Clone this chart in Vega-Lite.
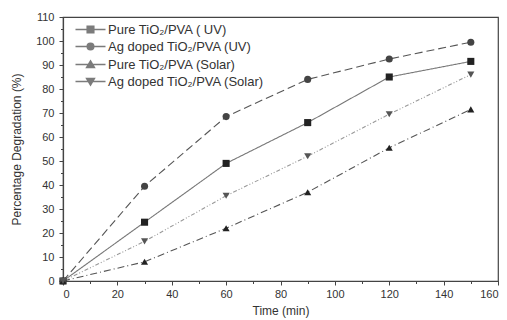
{
  "$schema": "https://vega.github.io/schema/vega-lite/v6.json",
  "width": 435,
  "height": 264,
  "autosize": {"type": "none"},
  "padding": {"left": 63, "top": 17, "right": 9, "bottom": 39},
  "background": "white",
  "config": {
    "view": {"stroke": "#444", "strokeWidth": 1.2},
    "font": "Liberation Sans",
    "axis": {"labelFont": "Liberation Sans", "titleFont": "Liberation Sans", "labelColor": "#333", "titleColor": "#333", "domainColor": "#444", "tickColor": "#444", "grid": false, "labelFontSize": 11, "titleFontSize": 12, "titleFontWeight": "normal", "labelOverlap": false},
    "legend": {"labelFont": "Liberation Sans", "labelFontSize": 13, "labelColor": "#333"}
  },
  "data": {"values": [
    {"t": 0, "v": 0, "s": "Pure TiO₂/PVA ( UV)"},
    {"t": 30, "v": 24.5, "s": "Pure TiO₂/PVA ( UV)"},
    {"t": 60, "v": 49, "s": "Pure TiO₂/PVA ( UV)"},
    {"t": 90, "v": 66, "s": "Pure TiO₂/PVA ( UV)"},
    {"t": 120, "v": 85, "s": "Pure TiO₂/PVA ( UV)"},
    {"t": 150, "v": 91.5, "s": "Pure TiO₂/PVA ( UV)"},
    {"t": 0, "v": 0, "s": "Ag doped TiO₂/PVA (UV)"},
    {"t": 30, "v": 39.5, "s": "Ag doped TiO₂/PVA (UV)"},
    {"t": 60, "v": 68.5, "s": "Ag doped TiO₂/PVA (UV)"},
    {"t": 90, "v": 84, "s": "Ag doped TiO₂/PVA (UV)"},
    {"t": 120, "v": 92.5, "s": "Ag doped TiO₂/PVA (UV)"},
    {"t": 150, "v": 99.5, "s": "Ag doped TiO₂/PVA (UV)"},
    {"t": 0, "v": 0, "s": "Pure TiO₂/PVA (Solar)"},
    {"t": 30, "v": 8, "s": "Pure TiO₂/PVA (Solar)"},
    {"t": 60, "v": 22, "s": "Pure TiO₂/PVA (Solar)"},
    {"t": 90, "v": 37, "s": "Pure TiO₂/PVA (Solar)"},
    {"t": 120, "v": 55.5, "s": "Pure TiO₂/PVA (Solar)"},
    {"t": 150, "v": 71.5, "s": "Pure TiO₂/PVA (Solar)"},
    {"t": 0, "v": 0, "s": "Ag doped TiO₂/PVA (Solar)"},
    {"t": 30, "v": 16.5, "s": "Ag doped TiO₂/PVA (Solar)"},
    {"t": 60, "v": 35.5, "s": "Ag doped TiO₂/PVA (Solar)"},
    {"t": 90, "v": 52, "s": "Ag doped TiO₂/PVA (Solar)"},
    {"t": 120, "v": 69.5, "s": "Ag doped TiO₂/PVA (Solar)"},
    {"t": 150, "v": 86, "s": "Ag doped TiO₂/PVA (Solar)"}
  ]},
  "encoding": {
    "x": {"field": "t", "type": "quantitative", "scale": {"domain": [0, 160], "nice": false},
      "axis": {"orient": "bottom", "title": "Time (min)", "values": [0,10,20,30,40,50,60,70,80,90,100,110,120,130,140,150,160],
        "labelExpr": "datum.value % 20 === 0 ? datum.label : ''", "labelOverlap": false,
        "tickSize": {"condition": {"test": "datum.value % 20 === 0", "value": 4}, "value": 2.5},
        "labelPadding": 3, "titlePadding": 6, "domainWidth": 1.2}},
    "y": {"field": "v", "type": "quantitative", "scale": {"domain": [0, 110], "nice": false},
      "axis": {"orient": "left", "title": "Percentage Degradation (%)", "values": [0,5,10,15,20,25,30,35,40,45,50,55,60,65,70,75,80,85,90,95,100,105,110],
        "labelExpr": "datum.value % 10 === 0 ? datum.label : ''", "labelOverlap": false,
        "tickSize": {"condition": {"test": "datum.value % 10 === 0", "value": 4}, "value": 2.5},
        "labelPadding": 5, "titlePadding": 12, "domainWidth": 1.2}}
  },
  "layer": [
    {
      "mark": {"type": "line", "strokeWidth": 1.1},
      "encoding": {
        "detail": {"field": "s"},
        "color": {"field": "s", "type": "nominal", "legend": null, "scale": {"domain": ["Pure TiO₂/PVA ( UV)", "Ag doped TiO₂/PVA (UV)", "Pure TiO₂/PVA (Solar)", "Ag doped TiO₂/PVA (Solar)"], "range": ["#777777", "#555555", "#555555", "#999999"]}},
        "strokeDash": {"field": "s", "type": "nominal", "legend": null, "scale": {"domain": ["Pure TiO₂/PVA ( UV)", "Ag doped TiO₂/PVA (UV)", "Pure TiO₂/PVA (Solar)", "Ag doped TiO₂/PVA (Solar)"], "range": [[1, 0], [8, 4], [7, 3, 1, 3], [4, 2, 1, 2, 1, 2]]}}
      }
    },
    {
      "mark": {"type": "point", "filled": true, "opacity": 1},
      "encoding": {
        "shape": {"field": "s", "type": "nominal", "legend": null, "scale": {"domain": ["Pure TiO₂/PVA ( UV)", "Ag doped TiO₂/PVA (UV)", "Pure TiO₂/PVA (Solar)", "Ag doped TiO₂/PVA (Solar)"], "range": ["square", "circle", "triangle-up", "triangle-down"]}},
        "size": {"field": "s", "type": "nominal", "legend": null, "scale": {"domain": ["Pure TiO₂/PVA ( UV)", "Ag doped TiO₂/PVA (UV)", "Pure TiO₂/PVA (Solar)", "Ag doped TiO₂/PVA (Solar)"], "range": [50, 50, 80, 80]}},
        "fill": {"field": "s", "type": "nominal", "legend": null, "scale": {"domain": ["Pure TiO₂/PVA ( UV)", "Ag doped TiO₂/PVA (UV)", "Pure TiO₂/PVA (Solar)", "Ag doped TiO₂/PVA (Solar)"], "range": ["#222222", "#444444", "#222222", "#555555"]}}
      }
    },
    {
      "transform": [{"filter": "false"}],
      "mark": {"type": "point", "filled": true, "size": 36, "color": "#444", "stroke": "#444", "strokeWidth": 1},
      "encoding": {
        "shape": {"field": "s", "type": "nominal", "title": null,
          "scale": {"domain": ["Pure TiO₂/PVA ( UV)", "Ag doped TiO₂/PVA (UV)", "Pure TiO₂/PVA (Solar)", "Ag doped TiO₂/PVA (Solar)"],
            "range": ["M0,0L10,0M3.9,-1.1H6.1V1.1H3.9Z", "M0,0L10,0M6.1,0A1.1,1.1 0 1 1 3.9,0A1.1,1.1 0 1 1 6.1,0Z", "M0,0L10,0M5,-1.2L6.3,1L3.7,1Z", "M0,0L10,0M5,1.2L6.3,-1L3.7,-1Z"]},
          "legend": {"orient": "none", "legendX": 6, "legendY": 6, "symbolSize": 36, "labelOffset": 26, "rowPadding": 3,
            "encode": {"symbols": {"update": {"stroke": {"value": "#444"}, "fill": {"value": "#444"}, "strokeWidth": {"value": 1}, "opacity": {"value": 1}}}}}
        }
      }
    }
  ],
  "resolve": {"scale": {"shape": "independent"}}
}
